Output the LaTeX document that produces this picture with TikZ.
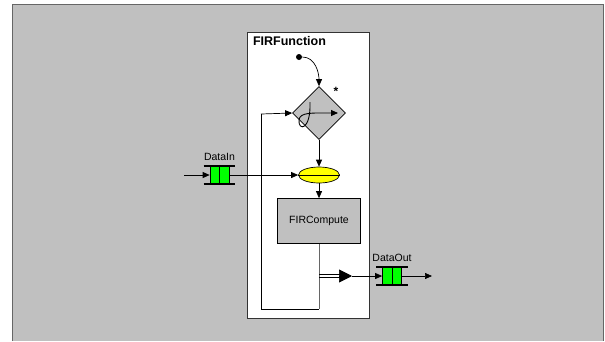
\documentclass[tikz,border=0pt]{standalone}
\usepackage{fontspec}
\setmainfont{Liberation Sans}
\usepackage{tikz}
\usetikzlibrary{arrows.meta}
\usetikzlibrary{calc}
\usetikzlibrary{shapes.geometric, shapes.misc}
\definecolor{bggray}{HTML}{C0C0C0}
\definecolor{qgreen}{HTML}{00FF00}
\definecolor{ellyellow}{HTML}{FFFF00}
\tikzstyle{txt} = [font=\fontsize{10.5}{12}\selectfont, inner sep=0pt]
\tikzstyle{block} = [style=draw, fill=bggray, txt,
	minimum width = 83pt,
	minimum height = 45pt]
\tikzstyle{arrow} =[-{Triangle[length=7pt,width=6pt]}]
\tikzstyle{queue} = [draw, fill=qgreen, inner sep=0pt,
	minimum width = 19pt,
	minimum height = 17pt]
\newcommand{\drawqueue}[3]{\node[queue] (#1) at #2{};
	\draw (#1.north) -- (#1.south);
	\draw[line width=1.8pt] ([xshift=-6pt]#1.north west) -- ([xshift=6pt]#1.north east)
	([xshift=-6pt]#1.south west) -- ([xshift=6pt]#1.south east);
	\node[txt, above=5pt] (#1-lbl) at (#1.north) {#3}}

\begin{document}
\begin{tikzpicture}[x=1pt, y=-1pt, line width=0.7pt]
			\useasboundingbox (0,0) rectangle (605,341);
			\fill[bggray] (12,4) rectangle (603,341);
			\draw[black!60, line width=1pt] (12,341) -- (12,4) -- (603,4) -- (603,341);
			
			% function box
			\node (fn) [draw=black!80, fill=white, minimum width=122pt, minimum height=286pt, inner sep=0pt] at (308,175) {};
			\node (fn-lbl) [font=\bfseries\fontsize{12.5}{14}\selectfont, inner sep=0pt, anchor=north west] at ([xshift=6pt,yshift=-4pt]fn.north west) {FIRFunction};
			
			\node (dot) [circle, fill=black, inner sep=0pt, minimum size=6pt] at (299,57) {};
			\node (dia) [diamond, draw, fill=bggray, inner sep=0pt, minimum size=53pt] at (319,113) {};
			\node (star) [font=\bfseries\fontsize{12}{14}\selectfont, inner sep=0pt] at (336,91) {*};
			\draw[-{Triangle[length=7pt,width=6pt]}, line width=0.9pt] (310,102) .. controls (311,131) and (298,131) .. (299,120) .. controls (300,112) and (312,113) .. (338,113);
			\node (ell) [ellipse, draw, fill=ellyellow, inner sep=0pt, minimum width=41pt, minimum height=16pt] at (319,175) {};
			\draw (ell.west) -- (ell.east);
			\node (fc) [block] at (319,221) {FIRCompute};
			
			\drawqueue{din}{(219.5,175)}{DataIn};
			\drawqueue{dout}{(392,276)}{DataOut};
			
			\coordinate (inl) at (184,175);
			\coordinate (outr) at (432,276);
			\coordinate (split) at (319,276);
			\coordinate (tip) at (352,276);
			\coordinate (loopbr) at (319,309);
			\coordinate (loopbl) at (261,309);
			\coordinate (looptl) at (261,114);
			
			\draw [arrow] (dot) to[out=0, in=90] (dia.north);
			\draw [arrow] (dia) -- (ell);
			\draw [arrow] (ell) -- (fc);
			\draw [arrow] (inl) -- (din);
			\draw [arrow] (din) -- (ell);
			\draw [black!60] (fc.south) -- (loopbr);
			\draw (loopbr) -- (loopbl) -- (looptl);
			\draw [arrow] (looptl) -- (dia.west);
			\draw ([yshift=1.5pt]split) -- ([yshift=1.5pt,xshift=-11pt]tip)
				([yshift=-1.5pt]split) -- ([yshift=-1.5pt,xshift=-11pt]tip);
			\draw [-{Triangle[length=13pt,width=13pt]}] ([xshift=-13pt]tip) -- (tip);
			\draw [arrow] (tip) -- (dout);
			\draw [arrow] (dout) -- (outr);
		\end{tikzpicture}
\end{document}
